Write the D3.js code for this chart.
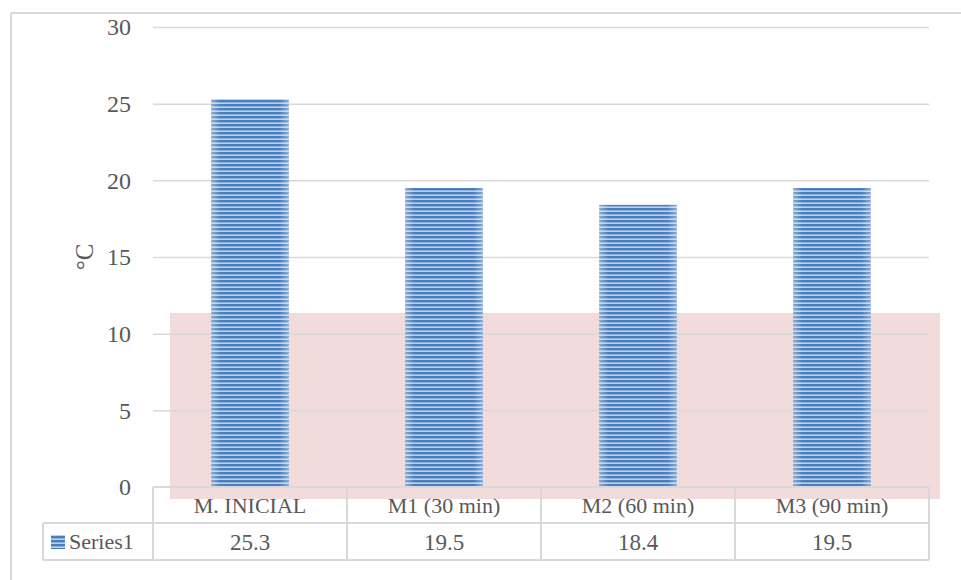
<!DOCTYPE html>
<html>
<head>
<meta charset="utf-8">
<script src="https://cdn.jsdelivr.net/npm/d3@7/dist/d3.min.js"></script>
<style>
  html, body { margin: 0; padding: 0; background: #ffffff; }
  svg { display: block; }
  text { font-family: "Liberation Serif", "DejaVu Serif", serif; fill: #595959; }
</style>
</head>
<body>
<svg id="chart" width="961" height="580"></svg>
<script>
// Temperature readings per sample
const categories = ["M. INICIAL", "M1 (30 min)", "M2 (60 min)", "M3 (90 min)"];
const values = [25.3, 19.5, 18.4, 19.5];
const seriesName = "Series1";
const yTicks = [0, 5, 10, 15, 20, 25, 30];
const yTitle = "°C";

const svg = d3.select("#chart");
const W = 961, H = 580;
const grid = "#d9d9d9";

const plot = { left: 153, right: 929, top: 27, bottom: 487 };

const x = d3.scaleBand()
  .domain(categories)
  .range([plot.left, plot.right])
  .paddingInner(0.6)
  .paddingOuter(0.3);

const y = d3.scaleLinear()
  .domain([0, 30])
  .range([plot.bottom, plot.top]);

// Striped fill for the bars
const defs = svg.append("defs");
const pat = defs.append("pattern")
  .attr("id", "stripes")
  .attr("patternUnits", "userSpaceOnUse")
  .attr("width", 8).attr("height", 4);
pat.append("rect").attr("width", 8).attr("height", 4).attr("fill", "#bcd0ea");
pat.append("rect").attr("y", 0).attr("width", 8).attr("height", 2.4).attr("fill", "#4a7ebd");

const edge = defs.append("linearGradient").attr("id", "edgeShade")
  .attr("x1", "0").attr("x2", "1").attr("y1", "0").attr("y2", "0");
edge.append("stop").attr("offset", "0").attr("stop-color", "#ffffff").attr("stop-opacity", 0.35);
edge.append("stop").attr("offset", "0.12").attr("stop-color", "#ffffff").attr("stop-opacity", 0);
edge.append("stop").attr("offset", "0.88").attr("stop-color", "#ffffff").attr("stop-opacity", 0);
edge.append("stop").attr("offset", "1").attr("stop-color", "#ffffff").attr("stop-opacity", 0.35);

// Outer frame (top and left edges)
svg.append("line").attr("x1", 11).attr("x2", W).attr("y1", 13).attr("y2", 13)
  .attr("stroke", grid).attr("stroke-width", 2);
svg.append("line").attr("x1", 11).attr("x2", 11).attr("y1", 13).attr("y2", H)
  .attr("stroke", grid).attr("stroke-width", 2);

// Highlight band behind the lower part of the plot
svg.append("rect")
  .attr("x", 170).attr("y", 313)
  .attr("width", 770).attr("height", 186)
  .attr("fill", "#f2dcdb");

// Gridlines and y tick labels
const yAxis = svg.append("g")
  .attr("transform", `translate(${plot.left},0)`)
  .call(d3.axisLeft(y).tickValues(yTicks).tickSize(-(plot.right - plot.left)).tickPadding(22).tickFormat(d3.format("d")));
yAxis.select(".domain").remove();
yAxis.selectAll(".tick line").attr("stroke", grid).attr("stroke-width", 1.5)
  .filter(d => d === 0).remove();
yAxis.selectAll(".tick text")
  .attr("fill", "#595959")
  .style("font-size", "24px")
  .style("font-family", "'Liberation Serif', serif");

// Axis title
svg.append("text")
  .attr("transform", `translate(${93},${257}) rotate(-90)`)
  .attr("text-anchor", "middle")
  .style("font-size", "25px")
  .text(yTitle);

// Bars
const bars = svg.append("g");
bars.selectAll("rect.bar")
  .data(values)
  .join("rect")
  .attr("class", "bar")
  .attr("x", (d, i) => x(categories[i]))
  .attr("y", d => y(d))
  .attr("width", x.bandwidth())
  .attr("height", d => y(0) - y(d))
  .attr("fill", "url(#stripes)");
bars.selectAll("rect.shade")
  .data(values)
  .join("rect")
  .attr("class", "shade")
  .attr("x", (d, i) => x(categories[i]))
  .attr("y", d => y(d))
  .attr("width", x.bandwidth())
  .attr("height", d => y(0) - y(d))
  .attr("fill", "url(#edgeShade)");

// Data table under the axis
const step = x.step();
const colLeft = c => x(c) - x.paddingInner() * step / 2;
const rowTop = plot.bottom, rowMid = 523, rowBot = 560, legendLeft = 43;
const table = svg.append("g").attr("stroke", grid).attr("stroke-width", 2).attr("fill", "none");

table.append("line").attr("x1", plot.left).attr("x2", plot.right).attr("y1", rowTop).attr("y2", rowTop);
table.append("line").attr("x1", legendLeft).attr("x2", plot.right).attr("y1", rowMid).attr("y2", rowMid);
table.append("line").attr("x1", legendLeft).attr("x2", plot.right).attr("y1", rowBot).attr("y2", rowBot);
table.append("line").attr("x1", legendLeft).attr("x2", legendLeft).attr("y1", rowMid).attr("y2", rowBot);
categories.forEach(c => {
  table.append("line").attr("x1", colLeft(c)).attr("x2", colLeft(c)).attr("y1", rowTop).attr("y2", rowBot);
});
table.append("line").attr("x1", plot.right).attr("x2", plot.right).attr("y1", rowTop).attr("y2", rowBot);

const fmt = d3.format(".1f");
svg.append("g").selectAll("text.cat")
  .data(categories)
  .join("text")
  .attr("class", "cat")
  .attr("x", c => x(c) + x.bandwidth() / 2)
  .attr("y", 513)
  .attr("text-anchor", "middle")
  .style("font-size", "22px")
  .text(c => c);

svg.append("g").selectAll("text.val")
  .data(values)
  .join("text")
  .attr("class", "val")
  .attr("x", (d, i) => x(categories[i]) + x.bandwidth() / 2)
  .attr("y", 550)
  .attr("text-anchor", "middle")
  .style("font-size", "23px")
  .text(d => fmt(d));

// Legend key in the table
svg.append("rect").attr("x", 51).attr("y", 535).attr("width", 14).attr("height", 14)
  .attr("fill", "url(#stripes)");
svg.append("text").attr("x", 69).attr("y", 549)
  .style("font-size", "22px")
  .text(seriesName);
</script>
</body>
</html>
